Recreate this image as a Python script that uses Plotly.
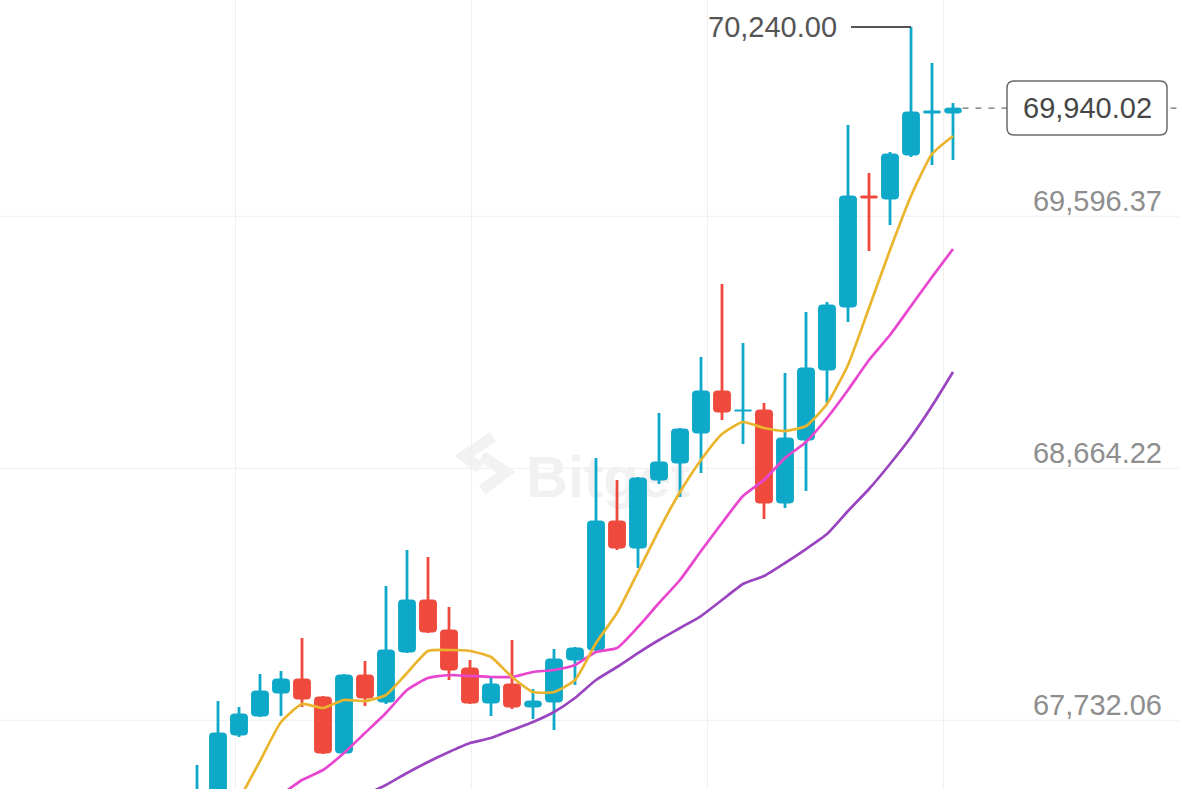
import plotly.graph_objects as go

# ---------------- data ----------------
idx = list(range(37))
open_ = [67251.2, 67399.2, 67621.1, 67691.4, 67776.5, 67828.3, 67761.7, 67554.6, 67843.1, 67743.2,
         67928.1, 68120.5, 68009.5, 67869.0, 67739.5, 67809.8, 67724.7, 67743.2, 67898.6, 67935.5,
         68412.7, 68312.8, 68564.4, 68627.3, 68738.2, 68893.6, 68819.6, 68823.3, 68479.3, 68712.3,
         68971.3, 69204.3, 69614.9, 69603.8, 69766.5, 69921.9, 69921.9]
high = [67510.2, 67746.9, 67724.7, 67846.8, 67857.9, 67979.9, 67765.4, 67846.8, 67894.9, 68172.3,
        68305.4, 68279.6, 68094.6, 67898.6, 67832.0, 67972.5, 67791.3, 67939.2, 67946.6, 68645.8,
        68564.4, 68575.5, 68812.2, 68756.7, 69019.4, 69289.4, 69071.1, 68849.2, 68960.2, 69185.8,
        69222.8, 69877.5, 69699.9, 69777.6, 70240.00, 70106.9, 69958.9]
low = [67214.2, 67362.2, 67613.7, 67687.7, 67691.4, 67724.7, 67550.9, 67550.9, 67728.4, 67735.8,
       67924.4, 67998.4, 67824.6, 67735.8, 67691.4, 67717.3, 67680.3, 67639.6, 67806.1, 67928.1,
       68305.4, 68238.9, 68549.6, 68501.5, 68590.3, 68786.3, 68697.5, 68420.1, 68460.8, 68523.7,
       68849.2, 69148.8, 69411.4, 69507.6, 69759.1, 69729.5, 69748.0]
close = [67380.7, 67628.5, 67698.8, 67783.9, 67828.3, 67754.3, 67554.6, 67843.1, 67758.0, 67935.5,
         68120.5, 68002.1, 67861.6, 67739.5, 67809.8, 67724.7, 67746.9, 67902.3, 67942.9, 68412.7,
         68312.8, 68571.8, 68631.0, 68753.0, 68893.6, 68815.9, 68823.3, 68479.3, 68719.7, 68978.7,
         69211.7, 69614.9, 69607.5, 69770.2, 69925.6, 69929.3, 69940.02]

ma_fast = [None, None, 67380.7, 67525.0, 67669.2, 67735.8, 67721.0, 67750.6, 67746.9, 67769.1,
           67850.5, 67931.8, 67935.5, 67931.8, 67909.7, 67835.7, 67780.2, 67780.2, 67824.6, 67961.4,
           68072.4, 68224.1, 68379.4, 68520.0, 68638.4, 68734.5, 68778.9, 68756.7, 68745.6, 68764.1,
           68845.5, 68989.8, 69200.6, 69415.1, 69614.9, 69770.2, 69836.8]
ma_mid = [None, None, None, None, 67399.2, 67454.7, 67491.7, 67554.6, 67628.5, 67702.5,
          67787.6, 67832.0, 67843.1, 67839.4, 67835.7, 67835.7, 67854.2, 67861.6, 67880.1, 67928.1,
          67942.9, 68020.6, 68109.4, 68194.5, 68301.7, 68405.3, 68505.2, 68564.4, 68645.8, 68704.9,
          68793.7, 68897.3, 69008.3, 69100.7, 69208.0, 69315.3, 69418.8]
ma_slow = [None, None, None, None, None, None, None, None, 67399.2, 67436.2,
           67480.6, 67521.3, 67558.2, 67591.5, 67610.0, 67639.6, 67669.2, 67706.2, 67758.0, 67824.6,
           67872.7, 67924.4, 67972.5, 68016.9, 68061.3, 68120.5, 68179.7, 68209.3, 68257.4, 68309.1,
           68364.6, 68449.7, 68531.1, 68623.6, 68723.4, 68838.1, 68963.9]

y_ticks = [67732.06, 68664.22, 69596.37]
last_price = close[-1]
peak_price = max(high)
peak_index = high.index(peak_price)

# ---------------- style ----------------
UP = '#0ea8c8'
DOWN = '#ef4a3d'
C_FAST = '#ebb42d'
C_MID = '#e946cf'
C_SLOW = '#9a45c0'
FONT = 'Liberation Sans'
W, H = 1179, 789
Y_RANGE = [67421.4, 70339.9]
X_RANGE = [-9.381, 46.762]
PX_PRICE = (Y_RANGE[1] - Y_RANGE[0]) / H     # price per pixel
PX_X = (X_RANGE[1] - X_RANGE[0]) / W         # index per pixel
GRID_OFFSET = 15.3 * PX_PRICE
GRID_X = [1.81, 13.07, 24.31, 35.55]

colors = [UP if c >= o else DOWN for o, c in zip(open_, close)]

fig = go.Figure()

# candle bodies
fig.add_trace(go.Bar(
    x=idx, y=[abs(c - o) for o, c in zip(open_, close)],
    base=[min(o, c) for o, c in zip(open_, close)],
    width=0.8,
    marker=dict(color=colors, cornerradius=3, line=dict(color=colors, width=1)),
    hoverinfo='skip', showlegend=False))

# wicks
for col in (UP, DOWN):
    xs, ys = [], []
    for i, h_, l_, cc in zip(idx, high, low, colors):
        if cc == col:
            xs += [i, i, None]
            ys += [l_, h_, None]
    fig.add_trace(go.Scatter(x=xs, y=ys, mode='lines', line=dict(color=col, width=2.8),
                             hoverinfo='skip', showlegend=False))

# moving averages
for series, col in ((ma_slow, C_SLOW), (ma_mid, C_MID), (ma_fast, C_FAST)):
    fig.add_trace(go.Scatter(x=idx, y=series, mode='lines',
                             line=dict(color=col, width=2.7, shape='spline', smoothing=0.5),
                             hoverinfo='skip', showlegend=False))

shapes = []
# horizontal grid lines (drawn slightly below the label positions as in the source)
for v in y_ticks:
    shapes.append(dict(type='line', xref='paper', yref='y', x0=0, x1=1,
                       y0=v - GRID_OFFSET, y1=v - GRID_OFFSET,
                       line=dict(color='#efefef', width=1), layer='below'))

# watermark (logo + name)
def px(xp, yp):
    return f"{xp / W:.5f},{1 - yp / H:.5f}"

shapes.append(dict(type='path', xref='paper', yref='paper', layer='below',
                   path=f"M{px(493, 437)} L{px(464, 456)} L{px(480, 468)}",
                   line=dict(color='#f2f2f2', width=11)))
shapes.append(dict(type='path', xref='paper', yref='paper', layer='below',
                   path=f"M{px(482, 456)} L{px(506, 472)} L{px(482, 490)}",
                   line=dict(color='#f2f2f2', width=11)))
shapes.append(dict(type='rect', xref='paper', yref='paper', layer='below',
                   x0=520 / W, x1=720 / W, y0=1 - 495 / H, y1=1 - 447 / H,
                   line=dict(width=0), fillcolor='rgba(0,0,0,0)',
                   label=dict(text='Bitget', textposition='middle left',
                              font=dict(family=FONT, size=58, color='#f1f1f1', weight='bold'))))

# peak marker line
shapes.append(dict(type='line', xref='x', yref='y',
                   x0=peak_index - 60 * PX_X, x1=peak_index, y0=peak_price, y1=peak_price,
                   line=dict(color='#555555', width=2), layer='above'))

# last price dashed line and box
shapes.append(dict(type='line', xref='x', yref='y', x0=idx[-1] + 0.45, x1=X_RANGE[1],
                   y0=last_price, y1=last_price,
                   line=dict(color='#6e6e6e', width=1.3, dash='6px,7px'), layer='above'))
bx0, bx1 = 1007 / W, 1167 / W
by0, by1 = last_price - 27 * PX_PRICE, last_price + 27 * PX_PRICE
rx, ry = 7 / W, 7 * PX_PRICE
box_path = (f"M{bx0 + rx},{by1} L{bx1 - rx},{by1} Q{bx1},{by1} {bx1},{by1 - ry} "
            f"L{bx1},{by0 + ry} Q{bx1},{by0} {bx1 - rx},{by0} L{bx0 + rx},{by0} "
            f"Q{bx0},{by0} {bx0},{by0 + ry} L{bx0},{by1 - ry} Q{bx0},{by1} {bx0 + rx},{by1} Z")
shapes.append(dict(type='path', xref='paper', yref='y', path=box_path,
                   fillcolor='white', line=dict(color='#6a6a6a', width=1.5), layer='above'))

annotations = [
    dict(x=peak_index, y=peak_price, xref='x', yref='y', text=f"{peak_price:,.2f}",
         showarrow=False, xanchor='right', yanchor='middle', xshift=-72,
         font=dict(family=FONT, size=29, color='#555555')),
    dict(x=(bx0 + bx1) / 2, y=last_price, xref='paper', yref='y', text=f"{last_price:,.2f}",
         showarrow=False, xanchor='center', yanchor='middle',
         font=dict(family=FONT, size=29, color='#474747')),
]

fig.update_layout(
    width=W, height=H, margin=dict(l=0, r=0, t=0, b=0),
    paper_bgcolor='white', plot_bgcolor='white', showlegend=False,
    shapes=shapes, annotations=annotations,
    xaxis=dict(range=X_RANGE, tickvals=GRID_X, showticklabels=False, ticks='',
               showgrid=True, gridcolor='#efefef', gridwidth=1, zeroline=False, showline=False,
               fixedrange=True),
    yaxis=dict(range=Y_RANGE, side='right', tickvals=y_ticks, tickformat=',.2f',
               ticklabelposition='inside', ticks='', ticklabelstandoff=14,
               showgrid=False, zeroline=False, showline=False,
               tickfont=dict(family=FONT, size=29, color='#8e8e8e'), fixedrange=True),
)

fig.write_html("out.html", config={'displayModeBar': False},
               post_script="document.body.style.margin='0';")
